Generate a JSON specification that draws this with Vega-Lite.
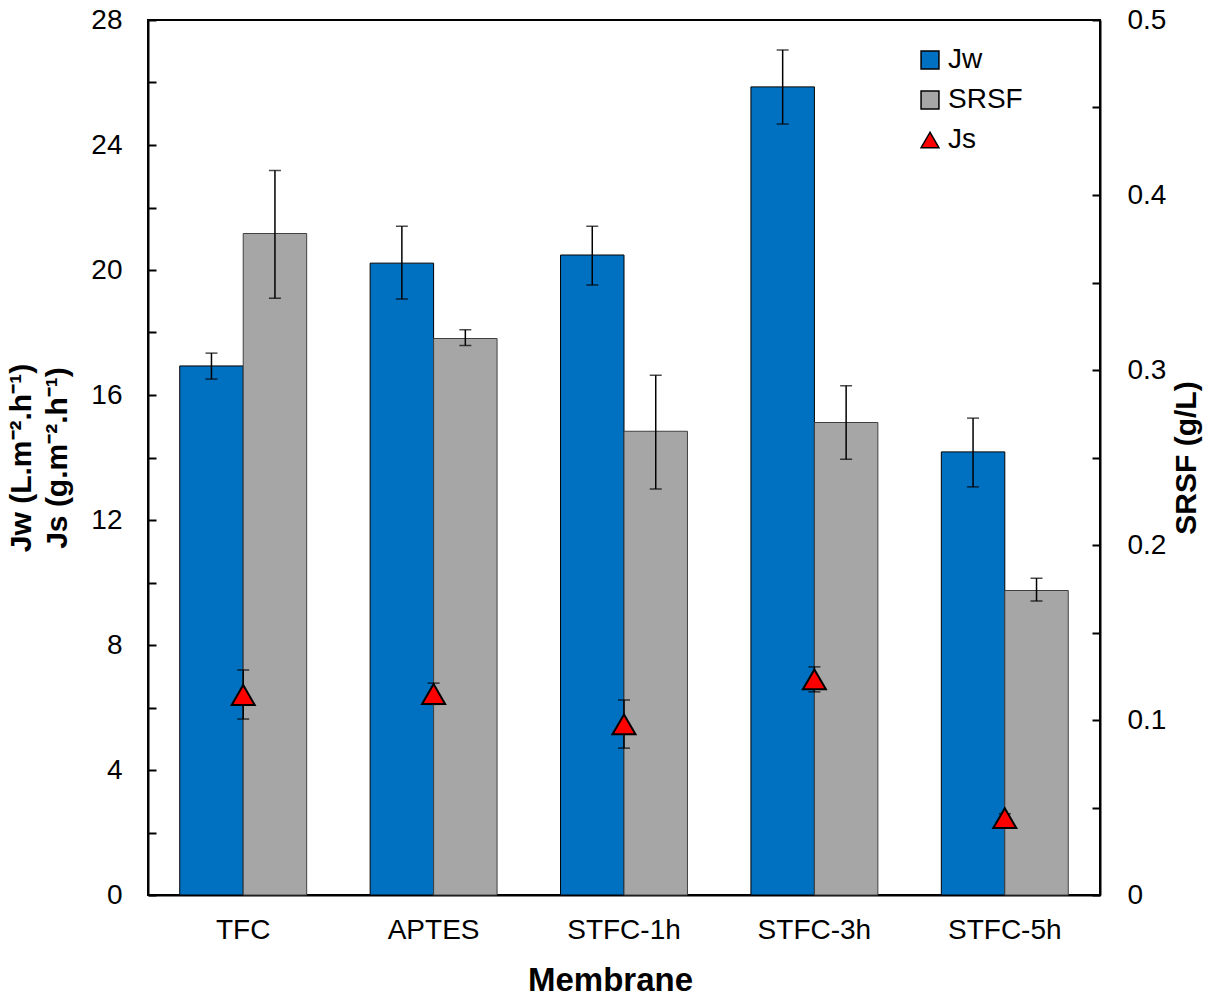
{
  "$schema": "https://vega.github.io/schema/vega-lite/v6.json",
  "autosize": "none",
  "padding": {"left": 148, "top": 20, "right": 115, "bottom": 101},
  "width": 952,
  "height": 875,
  "config": {
    "font": "Liberation Sans",
    "view": {"stroke": "black", "strokeWidth": 2},
    "axis": {"grid": false, "domainColor": "black", "domainWidth": 2, "tickColor": "black", "tickWidth": 2, "labelFont": "Liberation Sans", "labelFontSize": 28, "labelColor": "black", "titleFont": "Liberation Sans", "titleFontSize": 30, "titleFontWeight": "bold", "titleColor": "black"},
    "legend": {"labelFont": "Liberation Sans", "labelFontSize": 28, "labelColor": "black", "symbolStrokeColor": "black", "symbolStrokeWidth": 1.5, "symbolSize": 320, "rowPadding": 12, "labelOffset": 4}
  },
  "data": {"values": [
    {"membrane": "TFC", "series": "Jw", "value": 16.93, "lo": 16.51, "hi": 17.34},
    {"membrane": "APTES", "series": "Jw", "value": 20.22, "lo": 19.07, "hi": 21.4},
    {"membrane": "STFC-1h", "series": "Jw", "value": 20.48, "lo": 19.52, "hi": 21.4},
    {"membrane": "STFC-3h", "series": "Jw", "value": 25.86, "lo": 24.67, "hi": 27.04},
    {"membrane": "STFC-5h", "series": "Jw", "value": 14.18, "lo": 13.06, "hi": 15.26},
    {"membrane": "TFC", "series": "SRSF", "value": 0.378, "lo": 0.341, "hi": 0.414},
    {"membrane": "APTES", "series": "SRSF", "value": 0.318, "lo": 0.314, "hi": 0.323},
    {"membrane": "STFC-1h", "series": "SRSF", "value": 0.265, "lo": 0.232, "hi": 0.297},
    {"membrane": "STFC-3h", "series": "SRSF", "value": 0.270, "lo": 0.249, "hi": 0.291},
    {"membrane": "STFC-5h", "series": "SRSF", "value": 0.174, "lo": 0.168, "hi": 0.181},
    {"membrane": "TFC", "series": "Js", "value": 6.4, "lo": 5.63, "hi": 7.2},
    {"membrane": "APTES", "series": "Js", "value": 6.43, "lo": 6.1, "hi": 6.78},
    {"membrane": "STFC-1h", "series": "Js", "value": 5.46, "lo": 4.7, "hi": 6.24},
    {"membrane": "STFC-3h", "series": "Js", "value": 6.9, "lo": 6.5, "hi": 7.3},
    {"membrane": "STFC-5h", "series": "Js", "value": 2.46, "lo": 2.3, "hi": 2.6}
  ]},
  "encoding": {
    "x": {"field": "membrane", "type": "nominal", "sort": ["TFC", "APTES", "STFC-1h", "STFC-3h", "STFC-5h"],
      "scale": {"paddingInner": 0.3333, "paddingOuter": 0.1667},
      "axis": {"title": "Membrane", "labelAngle": 0, "ticks": false, "labelPadding": 21, "titlePadding": 20, "titleFontSize": 33, "titleX": 462}}
  },
  "layer": [
    {
      "transform": [{"filter": "datum.series == 'Jw'"}],
      "encoding": {
        "xOffset": {"field": "series", "type": "nominal", "scale": {"domain": ["Jw", "SRSF"], "paddingInner": 0, "paddingOuter": 0}}
      },
      "layer": [
        {"mark": {"type": "bar", "stroke": "black", "strokeWidth": 1},
          "encoding": {
            "y": {"field": "value", "type": "quantitative", "scale": {"domain": [0, 28], "nice": false},
              "axis": {"title": ["Jw (L.m⁻².h⁻¹)", "Js (g.m⁻².h⁻¹)"], "titleLineHeight": 36, "values": [0,2,4,6,8,10,12,14,16,18,20,22,24,26,28],
                "labelExpr": "datum.value % 4 == 0 ? datum.label : ''", "tickSize": -8, "labelPadding": 34, "titlePadding": 18}},
            "color": {"field": "series", "type": "nominal", "scale": {"domain": ["Jw", "SRSF", "Js"], "range": ["#0070C0", "#A6A6A6", "#FF0000"]},
              "legend": {"title": null, "orient": "none", "legendX": 768, "legendY": 26}}
          }},
        {"mark": {"type": "rule", "color": "black", "strokeWidth": 1.5},
          "encoding": {"y": {"field": "lo", "type": "quantitative"}, "y2": {"field": "hi"}}},
        {"mark": {"type": "tick", "color": "black", "thickness": 1.5, "size": 12},
          "encoding": {"y": {"field": "lo", "type": "quantitative"}}},
        {"mark": {"type": "tick", "color": "black", "thickness": 1.5, "size": 12},
          "encoding": {"y": {"field": "hi", "type": "quantitative"}}}
      ]
    },
    {
      "transform": [{"filter": "datum.series == 'SRSF'"}],
      "encoding": {
        "xOffset": {"field": "series", "type": "nominal", "scale": {"domain": ["Jw", "SRSF"], "paddingInner": 0, "paddingOuter": 0}}
      },
      "layer": [
        {"mark": {"type": "bar", "stroke": "#404040", "strokeWidth": 1},
          "encoding": {
            "y": {"field": "value", "type": "quantitative", "scale": {"domain": [0, 0.5], "nice": false},
              "axis": {"orient": "right", "title": "SRSF (g/L)", "titleAngle": -90, "values": [0,0.05,0.1,0.15,0.2,0.25,0.3,0.35,0.4,0.45,0.5],
                "labelExpr": "round(datum.value*100) % 10 == 0 ? format(datum.value, '~g') : ''", "tickSize": -8, "labelPadding": 35, "titlePadding": 36}},
            "color": {"field": "series", "type": "nominal", "scale": {"domain": ["Jw", "SRSF", "Js"], "range": ["#0070C0", "#A6A6A6", "#FF0000"]}}
          }},
        {"mark": {"type": "rule", "color": "black", "strokeWidth": 1.5},
          "encoding": {"y": {"field": "lo", "type": "quantitative"}, "y2": {"field": "hi"}}},
        {"mark": {"type": "tick", "color": "black", "thickness": 1.5, "size": 12},
          "encoding": {"y": {"field": "lo", "type": "quantitative"}}},
        {"mark": {"type": "tick", "color": "black", "thickness": 1.5, "size": 12},
          "encoding": {"y": {"field": "hi", "type": "quantitative"}}}
      ]
    },
    {
      "transform": [{"filter": "datum.series == 'Js'"}],
      "layer": [
        {"mark": {"type": "rule", "color": "black", "strokeWidth": 1.5},
          "encoding": {"y": {"field": "lo", "type": "quantitative", "scale": {"domain": [0, 28], "nice": false}, "axis": null}, "y2": {"field": "hi"}}},
        {"mark": {"type": "tick", "color": "black", "thickness": 1.5, "size": 12},
          "encoding": {"y": {"field": "lo", "type": "quantitative"}}},
        {"mark": {"type": "tick", "color": "black", "thickness": 1.5, "size": 12},
          "encoding": {"y": {"field": "hi", "type": "quantitative"}}},
        {"mark": {"type": "point", "filled": true, "stroke": "black", "strokeWidth": 2, "size": 530, "opacity": 1},
          "encoding": {
            "y": {"field": "value", "type": "quantitative"},
            "color": {"field": "series", "type": "nominal", "scale": {"domain": ["Jw", "SRSF", "Js"], "range": ["#0070C0", "#A6A6A6", "#FF0000"]}},
            "shape": {"field": "series", "type": "nominal", "scale": {"domain": ["Jw", "SRSF", "Js"], "range": ["square", "square", "triangle-up"]}}
          }}
      ]
    }
  ],
  "resolve": {"scale": {"y": "independent"}}
}
